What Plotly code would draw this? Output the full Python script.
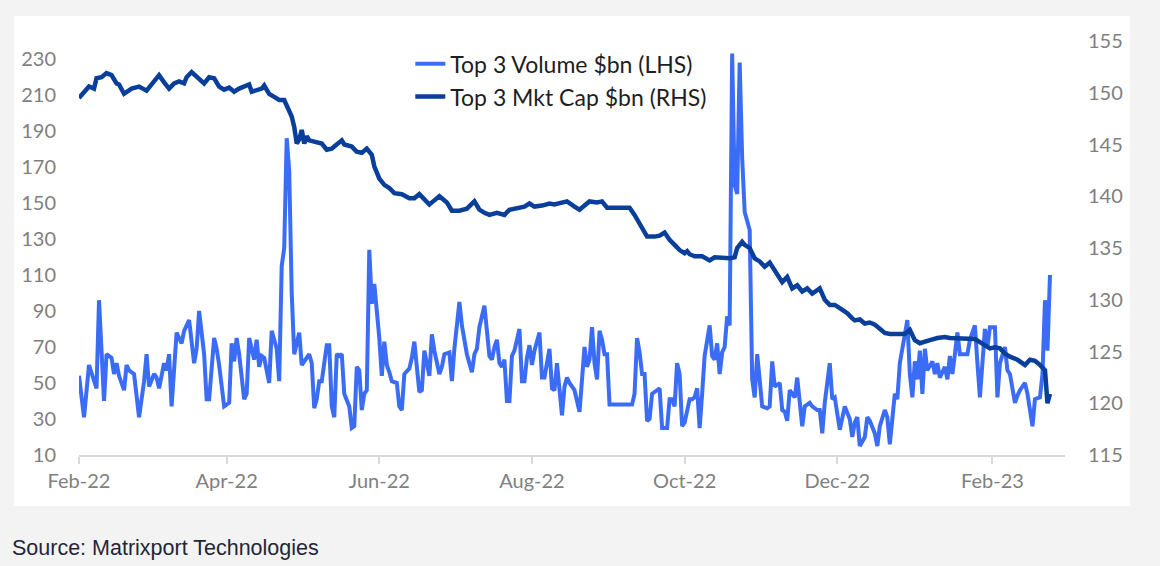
import pandas as pd
import plotly.graph_objects as go

START = "2022-02-01"

# Top 3 Volume $bn (LHS): day offset from START, value
vol_day = [
    0, 2, 4, 6, 7, 8, 10, 11, 13, 14,
    15, 16, 18, 19, 20, 22, 24, 26, 27, 28,
    30, 31, 32, 34, 35, 36, 37, 39, 41, 42,
    44, 46, 47, 48, 50, 51, 52, 54, 55, 56,
    57, 58, 60, 61, 62, 63, 64, 66, 67, 68,
    70, 71, 72, 73, 74, 76, 77, 79, 80, 81,
    82, 83, 84, 85, 86, 88, 89, 90, 92, 93,
    94, 95, 96, 97, 99, 100, 101, 102, 103, 104,
    105, 106, 108, 109, 110, 111, 112, 113, 114, 115,
    116, 117, 118, 120, 121, 122, 123, 124, 125, 127,
    128, 129, 130, 132, 133, 134, 136, 137, 138, 140,
    141, 142, 144, 145, 146, 148, 149, 150, 152, 153,
    154, 155, 157, 158, 159, 160, 162, 163, 164, 165,
    166, 167, 168, 169, 170, 171, 172, 173, 174, 176,
    177, 178, 179, 180, 181, 182, 184, 185, 186, 187,
    188, 189, 190, 191, 192, 193, 194, 195, 196, 198,
    199, 200, 202, 203, 204, 205, 206, 207, 208, 209,
    210, 211, 212, 221, 222, 223, 224, 225, 226, 227,
    228, 229, 230, 232, 233, 235, 236, 237, 238, 239,
    240, 241, 242, 244, 245, 246, 247, 248, 249, 250,
    252, 253, 254, 255, 256, 257, 258, 259, 260, 261,
    262, 263, 264, 265, 266, 267, 268, 269, 270, 271,
    272, 273, 275, 276, 277, 278, 280, 281, 282, 283,
    284, 286, 287, 288, 289, 290, 292, 293, 295, 296,
    297, 298, 300, 301, 302, 304, 305, 306, 308, 309,
    310, 311, 312, 314, 315, 316, 318, 319, 320, 322,
    323, 324, 326, 327, 328, 330, 331, 332, 333, 334,
    335, 336, 337, 338, 339, 341, 342, 343, 344, 346,
    347, 348, 349, 350, 351, 352, 354, 355, 356, 358,
    359, 360, 362, 363, 364, 366, 367, 368, 370, 371,
    372, 374, 375, 376, 378, 379, 381, 382, 384, 385,
    386, 387, 388,
]
vol_val = [
    54, 31, 60, 50, 47, 96, 40, 66, 64, 55,
    61, 54, 46, 60, 57, 55, 31, 51, 66, 48,
    55, 53, 47, 61, 57, 66, 37, 78, 72, 79,
    85, 61, 69, 90, 66, 41, 41, 75, 69, 60,
    46, 37, 39, 72, 62, 75, 66, 41, 44, 75,
    63, 74, 59, 65, 64, 50, 79, 69, 51, 115,
    125, 186, 168, 100, 66, 78, 60, 62, 66, 61,
    36, 41, 51, 51, 71, 71, 37, 31, 66, 65,
    66, 44, 37, 25, 26, 59, 57, 35, 44, 46,
    124, 94, 105, 75, 54, 73, 60, 56, 51, 50,
    37, 35, 55, 58, 64, 73, 45, 46, 68, 54,
    77, 68, 55, 59, 66, 67, 51, 69, 95, 82,
    72, 66, 56, 66, 69, 81, 93, 81, 65, 63,
    70, 74, 61, 59, 63, 40, 40, 65, 68, 80,
    51, 51, 64, 71, 60, 68, 78, 53, 53, 61,
    69, 47, 46, 61, 48, 32, 48, 53, 50, 46,
    40, 34, 70, 59, 63, 81, 61, 52, 79, 74,
    66, 66, 38, 38, 44, 75, 67, 55, 55, 29,
    30, 44, 45, 47, 25, 25, 41, 41, 37, 61,
    55, 26, 28, 41, 41, 42, 47, 25, 44, 65,
    82, 65, 63, 72, 55, 67, 70, 87, 82, 233,
    160, 155, 228, 175, 145, 140, 135, 52, 42, 66,
    48, 37, 36, 37, 62, 48, 50, 35, 34, 29,
    46, 42, 53, 37, 26, 37, 39, 37, 35, 35,
    22, 39, 61, 41, 42, 24, 31, 37, 30, 20,
    28, 31, 15, 20, 31, 29, 22, 15, 26, 35,
    31, 16, 44, 41, 61, 78, 85, 55, 42, 62,
    52, 68, 44, 69, 57, 62, 55, 61, 53, 59,
    52, 65, 55, 66, 78, 66, 66, 66, 74, 82,
    61, 42, 80, 70, 81, 81, 42, 61, 70, 57,
    55, 39, 43, 46, 50, 44, 26, 41, 42, 55,
    96, 68, 110,
]

# Top 3 Mkt Cap $bn (RHS)
cap_day = [
    0, 2, 4, 6, 7, 9, 11, 13, 15, 16,
    18, 21, 24, 27, 30, 32, 34, 36, 38, 40,
    42, 43, 45, 46, 48, 50, 52, 54, 56, 58,
    60, 62, 64, 66, 68, 69, 71, 73, 74, 76,
    78, 80, 82, 83, 85, 86, 87, 88, 89, 90,
    91, 92, 94, 97, 99, 101, 102, 105, 106, 109,
    111, 113, 115, 117, 118, 120, 122, 124, 126, 129,
    132, 134, 136, 138, 140, 142, 144, 147, 149, 152,
    154, 155, 158, 160, 162, 164, 167, 170, 172, 175,
    178, 180, 182, 185, 188, 190, 192, 195, 198, 200,
    202, 204, 207, 209, 211, 220, 222, 224, 226, 227,
    230, 232, 234, 236, 238, 240, 242, 243, 244, 246,
    249, 252, 254, 257, 260, 262, 263, 265, 266, 268,
    270, 272, 274, 276, 278, 281, 283, 285, 287, 289,
    291, 293, 296, 298, 300, 302, 304, 307, 309, 310,
    312, 314, 316, 318, 320, 322, 324, 327, 330, 332,
    334, 336, 338, 340, 343, 346, 348, 351, 354, 358,
    360, 362, 364, 366, 368, 370, 372, 375, 378, 380,
    382, 384, 386, 387, 388,
]
cap_val = [
    149.5, 150.1, 150.6, 150.4, 151.4, 151.5, 151.9, 151.7, 150.9, 150.8,
    149.9, 150.4, 150.6, 150.2, 151.2, 151.7, 151.0, 150.4, 150.9, 151.1,
    150.9, 151.5, 152.0, 151.8, 151.4, 150.9, 151.5, 151.4, 150.6, 150.3,
    150.5, 150.1, 150.4, 150.6, 150.8, 150.1, 150.2, 150.4, 150.7, 149.9,
    149.6, 149.3, 149.3, 148.7, 147.7, 146.7, 145.1, 145.5, 146.4, 145.1,
    145.8, 145.4, 145.3, 145.1, 144.5, 144.6, 144.8, 145.4, 145.0, 144.8,
    144.3, 144.2, 144.6, 144.0, 142.9, 141.7, 141.1, 140.8, 140.3, 140.2,
    139.8, 139.8, 140.2, 139.7, 139.2, 139.6, 140.0, 139.4, 138.6, 138.6,
    138.8, 138.8, 139.5, 138.7, 138.4, 138.2, 138.4, 138.2, 138.7, 138.8,
    139.0, 139.3, 139.0, 139.1, 139.3, 139.2, 139.3, 139.5, 139.0, 138.7,
    139.1, 139.5, 139.4, 139.5, 138.9, 138.9, 138.2, 137.4, 136.4, 136.1,
    136.1, 136.2, 136.5, 135.8, 135.3, 134.8, 134.5, 134.7, 134.4, 134.2,
    134.2, 133.8, 134.1, 134.0, 134.0, 134.1, 135.0, 135.6, 135.3, 135.0,
    134.0, 133.7, 133.2, 133.6, 132.9, 131.7, 132.2, 131.1, 131.4, 130.8,
    131.1, 130.6, 131.1, 130.0, 129.5, 129.5, 129.2, 128.7, 128.2, 128.0,
    128.1, 127.7, 127.8, 127.6, 127.2, 126.8, 126.7, 126.7, 126.7, 127.1,
    126.1, 125.8, 126.0, 126.1, 126.3, 126.4, 126.3, 126.3, 126.3, 126.2,
    125.9, 125.6, 125.3, 125.4, 125.3, 124.8, 124.5, 124.2, 123.7, 124.2,
    124.1, 123.7, 123.2, 120.0, 120.9,
]

x_ticks = ["2022-02-01", "2022-04-01", "2022-06-01", "2022-08-01",
           "2022-10-01", "2022-12-01", "2023-02-01"]
x_tick_text = ["Feb-22", "Apr-22", "Jun-22", "Aug-22", "Oct-22", "Dec-22", "Feb-23"]
x_range = ["2022-02-01", "2023-03-02"]
lhs_ticks = [10, 30, 50, 70, 90, 110, 130, 150, 170, 190, 210, 230]
rhs_ticks = [115, 120, 125, 130, 135, 140, 145, 150, 155]

assert len(vol_day) == len(vol_val), (len(vol_day), len(vol_val))
assert len(cap_day) == len(cap_val), (len(cap_day), len(cap_val))

start = pd.Timestamp(START)
vol_dates = start + pd.to_timedelta(vol_day, unit="D")
cap_dates = start + pd.to_timedelta(cap_day, unit="D")

TICK_FONT = dict(family="Lato, Open Sans, sans-serif", size=20, color="#7f7f7f")

fig = go.Figure()
fig.add_trace(go.Scatter(
    x=vol_dates, y=vol_val, mode="lines", name="Top 3 Volume $bn (LHS)",
    line=dict(color="#3b6cf5", width=4), yaxis="y", legendgroup="vol",
))
fig.add_trace(go.Scatter(
    x=cap_dates, y=cap_val, mode="lines", name="Top 3 Mkt Cap $bn (RHS)",
    line=dict(color="#093f9b", width=4.5), yaxis="y2", legendgroup="cap",
))

fig.update_layout(
    width=1160, height=566,
    margin=dict(l=79, r=95, t=41, b=111),
    paper_bgcolor="#f3f3f3",
    plot_bgcolor="white",
    showlegend=True,
    legend=dict(
        x=0.336, y=0.997, xanchor="left", yanchor="top",
        bgcolor="rgba(0,0,0,0)",
        font=dict(family="Lato, Open Sans, sans-serif", size=23, color="#1e1e1e"),
        tracegroupgap=0,
    ),
    xaxis=dict(
        type="date", range=x_range,
        tickmode="array", tickvals=x_ticks, ticktext=x_tick_text,
        showgrid=False, zeroline=False,
        showline=True, linecolor="#d9d9d9", linewidth=2,
        ticks="outside", ticklen=7, tickcolor="#d9d9d9", tickwidth=2,
        tickfont=TICK_FONT,
    ),
    yaxis=dict(
        range=[10, 240], tickmode="array", tickvals=lhs_ticks,
        showgrid=False, zeroline=False, showline=False, ticks="",
        tickfont=TICK_FONT, ticklabelstandoff=22,
    ),
    yaxis2=dict(
        range=[115, 155], tickmode="array", tickvals=rhs_ticks,
        overlaying="y", side="right",
        showgrid=False, zeroline=False, showline=False, ticks="",
        tickfont=TICK_FONT, ticklabelstandoff=22,
    ),
    shapes=[dict(
        type="rect", xref="paper", yref="paper",
        x0=-0.0659, x1=1.0659, y0=-0.1232, y1=1.0604,
        fillcolor="white", line=dict(width=0), layer="below",
    )],
    annotations=[dict(
        text="Source: Matrixport Technologies",
        xref="paper", yref="paper", x=-0.07, y=-0.2246,
        xanchor="left", yanchor="middle", showarrow=False,
        font=dict(family="Liberation Sans, Arial, sans-serif", size=21.5, color="#1f2638"),
    )],
)

fig.write_html("out.html")
